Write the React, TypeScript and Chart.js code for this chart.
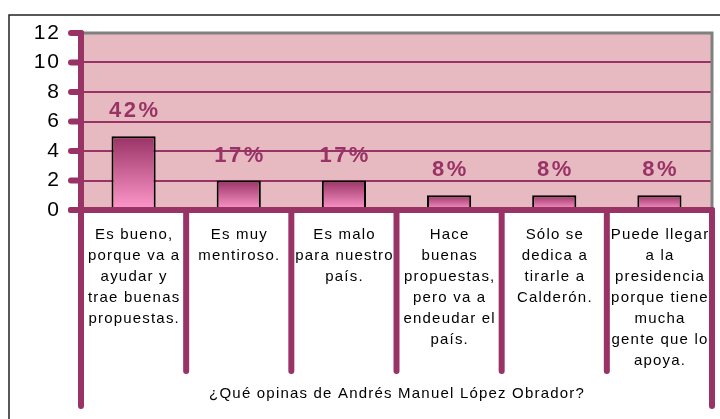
import React, { useEffect, useRef } from "react";
import { Chart, registerables } from "chart.js";

Chart.register(...registerables);

const categories: string[][] = [
  ["Es bueno,", "porque va a", "ayudar y", "trae buenas", "propuestas."],
  ["Es muy", "mentiroso."],
  ["Es malo", "para nuestro", "país."],
  ["Hace", "buenas", "propuestas,", "pero va a", "endeudar el", "país."],
  ["Sólo se", "dedica a", "tirarle a", "Calderón."],
  ["Puede llegar", "a la", "presidencia", "porque tiene", "mucha", "gente que lo", "apoya."],
];
const values: number[] = [5, 2, 2, 1, 1, 1];
const pctLabels: string[] = ["42%", "17%", "17%", "8%", "8%", "8%"];
const yTicks: number[] = [0, 2, 4, 6, 8, 10, 12];
const axisTitle = "¿Qué opinas de Andrés Manuel López Obrador?";

const MAGENTA = "#993366";
const FONT = "Arial, 'Liberation Sans', sans-serif";

const decorPlugin = {
  id: "decor",
  beforeDraw(chart: any) {
    const { ctx, chartArea: a } = chart;
    ctx.save();
    ctx.fillStyle = "#ffffff";
    ctx.fillRect(0, 0, chart.width, chart.height);
    // outer frame
    ctx.strokeStyle = "#222";
    ctx.lineWidth = 1.5;
    ctx.beginPath();
    ctx.moveTo(9, chart.height + 2);
    ctx.lineTo(9, 15);
    ctx.lineTo(chart.width + 2, 15);
    ctx.stroke();
    // plot background
    ctx.fillStyle = "#E7BAC2";
    ctx.fillRect(a.left, a.top, a.right - a.left, a.bottom - a.top);
    ctx.restore();
    ctx.letterSpacing = "2px";
  },
  afterDatasetsDraw(chart: any) {
    const { ctx, chartArea: a, scales } = chart;
    const x = scales.x;
    const y = scales.y;
    ctx.save();
    ctx.letterSpacing = "0px";
    // gray top & right border
    ctx.strokeStyle = "#808080";
    ctx.lineWidth = 3;
    ctx.beginPath();
    ctx.moveTo(a.left, a.top);
    ctx.lineTo(a.right, a.top);
    ctx.lineTo(a.right, a.bottom);
    ctx.stroke();

    ctx.strokeStyle = MAGENTA;
    ctx.lineCap = "round";
    ctx.lineWidth = 6;
    const y0 = y.getPixelForValue(0);
    // y tick marks
    yTicks.forEach((v) => {
      const py = y.getPixelForValue(v);
      ctx.beginPath();
      ctx.moveTo(a.left - 10, py);
      ctx.lineTo(a.left, py);
      ctx.stroke();
    });
    // zero line
    ctx.beginPath();
    ctx.moveTo(a.left - 10, y0);
    ctx.lineTo(a.right, y0);
    ctx.stroke();
    // left axis
    ctx.beginPath();
    ctx.moveTo(a.left, a.top);
    ctx.lineTo(a.left, 406);
    ctx.stroke();
    // right
    ctx.beginPath();
    ctx.moveTo(a.right, y0);
    ctx.lineTo(a.right, 406);
    ctx.stroke();
    // separators
    for (let i = 0; i < categories.length - 1; i++) {
      const px = (x.getPixelForValue(i) + x.getPixelForValue(i + 1)) / 2;
      ctx.beginPath();
      ctx.moveTo(px, y0);
      ctx.lineTo(px, 371);
      ctx.stroke();
    }

    // percent labels
    ctx.fillStyle = MAGENTA;
    ctx.font = `bold 22px ${FONT}`;
    ctx.textAlign = "center";
    ctx.textBaseline = "middle";
    ctx.letterSpacing = "2.5px";
    values.forEach((v, i) => {
      const px = x.getPixelForValue(i) + 1.25;
      const py = y.getPixelForValue(v) - 25;
      ctx.fillText(pctLabels[i], px, py);
    });

    // category labels
    ctx.fillStyle = "#000";
    ctx.font = `15px ${FONT}`;
    ctx.letterSpacing = "1.2px";
    categories.forEach((lines, i) => {
      const px = x.getPixelForValue(i) + 0.6;
      lines.forEach((ln, j) => {
        ctx.fillText(ln, px, 235 + j * 21);
      });
    });
    // axis title
    ctx.fillText(axisTitle, (a.left + a.right) / 2 + 0.6, 394);
    ctx.restore();
  },
};

export default function App() {
  const ref = useRef<HTMLCanvasElement>(null);
  useEffect(() => {
    if (!ref.current) return;
    const chart = new Chart(ref.current, {
      type: "bar",
      data: {
        labels: categories.map((c) => c.join(" ")),
        datasets: [
          {
            data: values,
            borderColor: "#000",
            borderWidth: 2,
            borderSkipped: false,
            categoryPercentage: 1,
            barPercentage: 0.42,
            backgroundColor: (c: any) => {
              const ch = c.chart;
              const ys = ch.scales && ch.scales.y;
              if (!ys || !ch.chartArea || c.raw === undefined) return "#cc6699";
              const top = ys.getPixelForValue(c.raw);
              const bot = ys.getPixelForValue(0);
              const g = ch.ctx.createLinearGradient(0, top, 0, bot);
              g.addColorStop(0, "#993366");
              g.addColorStop(1, "#FF99CC");
              return g;
            },
          },
        ],
      },
      options: {
        responsive: false,
        animation: false,
        devicePixelRatio: 1,
        layout: { padding: { top: 33, right: 8, left: 0, bottom: 0 } },
        plugins: { legend: { display: false }, tooltip: { enabled: false } },
        scales: {
          x: {
            grid: { display: false },
            border: { display: false },
            ticks: { display: false },
            afterFit: (s: any) => {
              s.height = 209;
            },
          },
          y: {
            min: 0,
            max: 12,
            afterBuildTicks: (s: any) => {
              s.ticks = yTicks.map((v) => ({ value: v }));
            },
            ticks: {
              color: "#000",
              font: { family: FONT, size: 21 },
              padding: 20,
            },
            grid: {
              drawTicks: false,
              color: (c: any) =>
                c.tick && (c.tick.value === 0 || c.tick.value === 12) ? "rgba(0,0,0,0)" : MAGENTA,
              lineWidth: 2,
            },
            border: { display: false },
            afterFit: (s: any) => {
              s.width = 81;
            },
          },
        },
      },
      plugins: [decorPlugin],
    });
    return () => chart.destroy();
  }, []);
  return (
    <div style={{ position: "absolute", left: 0, top: 0, width: 720, height: 419 }}>
      <canvas ref={ref} width={720} height={419} style={{ width: 720, height: 419, display: "block" }} />
    </div>
  );
}
